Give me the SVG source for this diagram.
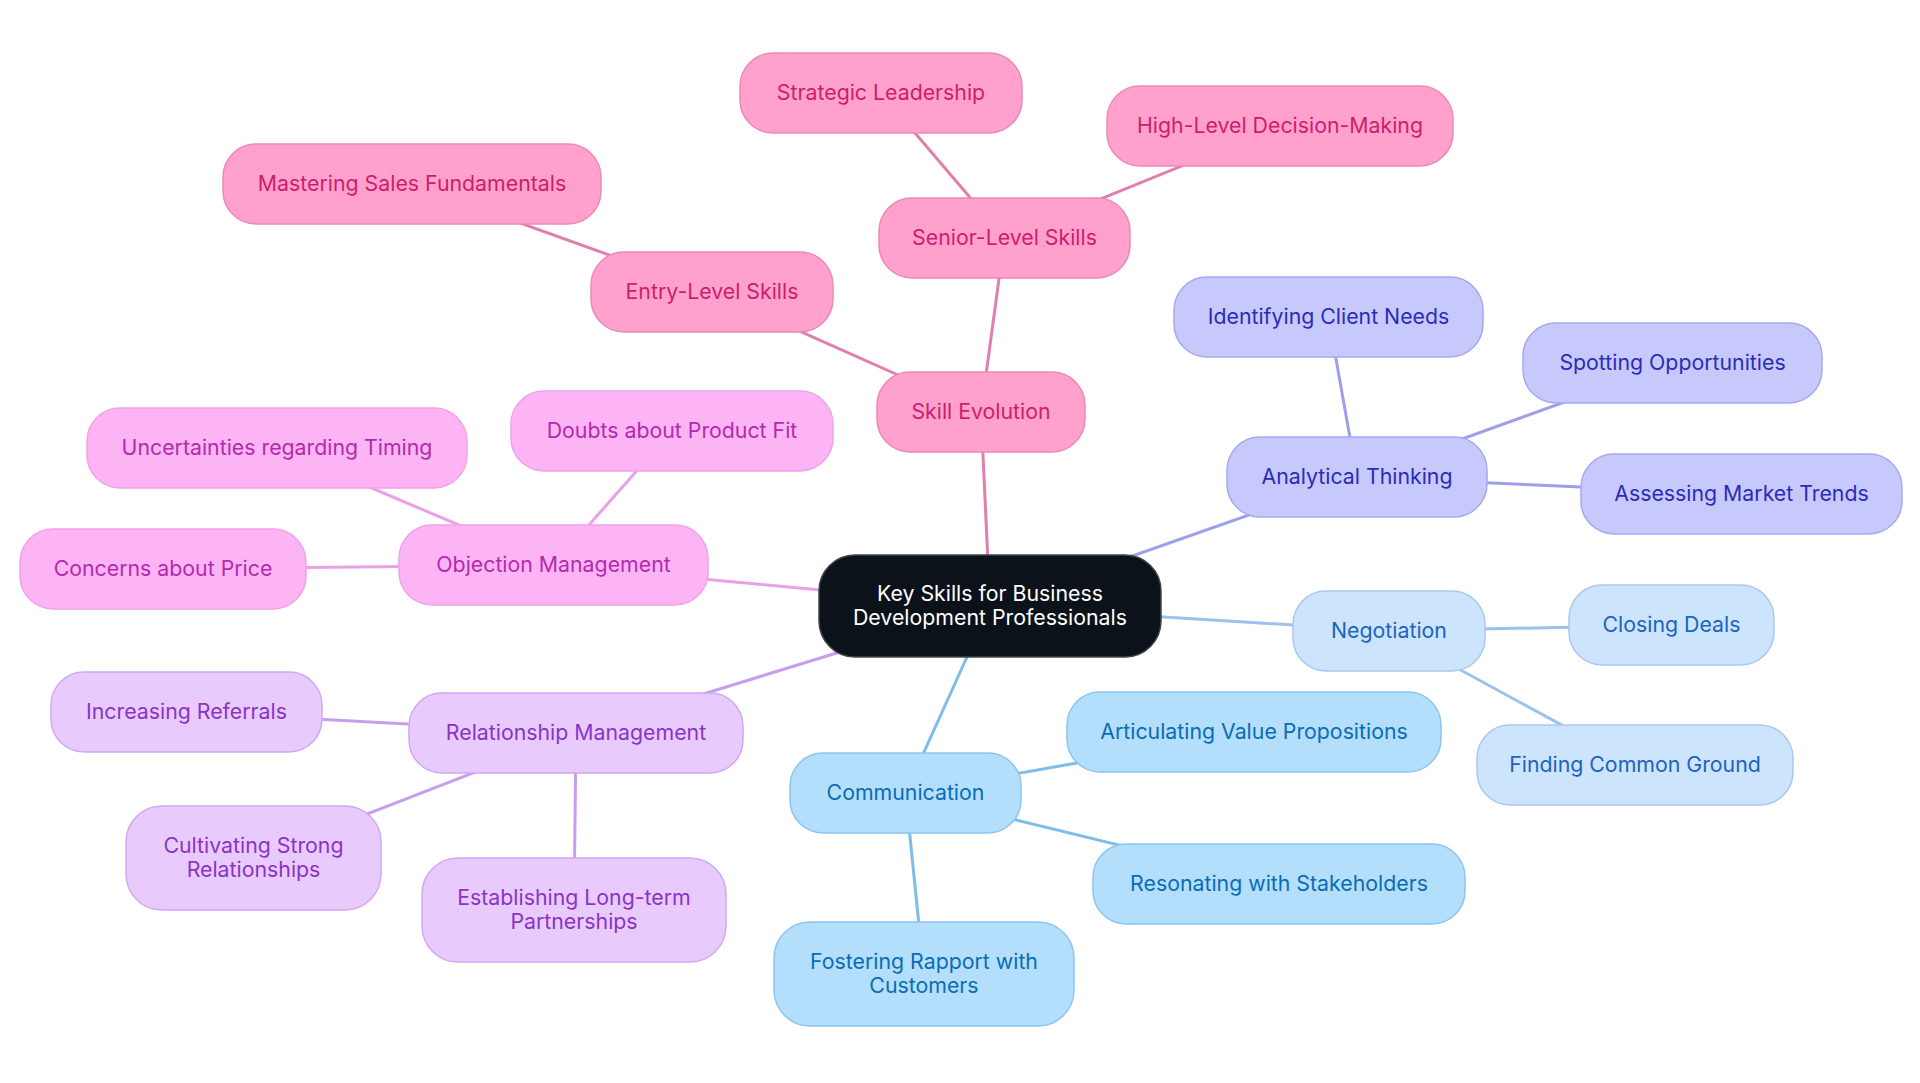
<svg xmlns="http://www.w3.org/2000/svg" width="1920" height="1083" viewBox="0 0 1920 1083">
<style>
text{font-family:Inter,"Open Sans","Liberation Sans",sans-serif;font-size:21.3px;text-anchor:middle;dominant-baseline:central}
.e{stroke-width:3;fill:none;stroke-linecap:round}
.pk rect{fill:#FFA1CC;stroke:#E98AB7;stroke-width:1.5}.pk text{fill:#CC1E6C}
.mg rect{fill:#FCB4F5;stroke:#EEA2EA;stroke-width:1.5}.mg text{fill:#B22AB0}
.lv rect{fill:#E9CAFD;stroke:#D0A8F2;stroke-width:1.5}.lv text{fill:#8A33C8}
.cb rect{fill:#B3DFFC;stroke:#8CC5EF;stroke-width:1.5}.cb text{fill:#0B6CB5}
.nb rect{fill:#CCE4FC;stroke:#A9C8F0;stroke-width:1.5}.nb text{fill:#1D63C0}
.an rect{fill:#C7C9FD;stroke:#A6A8EE;stroke-width:1.5}.an text{fill:#2B2CB8}
</style>
<rect width="1920" height="1083" fill="#ffffff"/>
<g id="connectors">
<line class="e" stroke="#E07FAE" x1="990" y1="606" x2="981" y2="412"/>
<line class="e" stroke="#E07FAE" x1="981" y1="412" x2="712" y2="292"/>
<line class="e" stroke="#E07FAE" x1="712" y1="292" x2="412" y2="184"/>
<line class="e" stroke="#E07FAE" x1="981" y1="412" x2="1004.5" y2="238"/>
<line class="e" stroke="#E07FAE" x1="1004.5" y1="238" x2="881" y2="93"/>
<line class="e" stroke="#E07FAE" x1="1004.5" y1="238" x2="1280" y2="126"/>
<line class="e" stroke="#9D9FE8" x1="990" y1="606" x2="1357" y2="477"/>
<line class="e" stroke="#9D9FE8" x1="1357" y1="477" x2="1328.5" y2="317"/>
<line class="e" stroke="#9D9FE8" x1="1357" y1="477" x2="1672.5" y2="363"/>
<line class="e" stroke="#9D9FE8" x1="1357" y1="477" x2="1741.5" y2="494"/>
<line class="e" stroke="#9CC2EC" x1="990" y1="606" x2="1389" y2="631"/>
<line class="e" stroke="#9CC2EC" x1="1389" y1="631" x2="1671.5" y2="625"/>
<line class="e" stroke="#9CC2EC" x1="1389" y1="631" x2="1635" y2="765"/>
<line class="e" stroke="#7DBDEA" x1="990" y1="606" x2="905.5" y2="793"/>
<line class="e" stroke="#7DBDEA" x1="905.5" y1="793" x2="1254" y2="732"/>
<line class="e" stroke="#7DBDEA" x1="905.5" y1="793" x2="1279" y2="884"/>
<line class="e" stroke="#7DBDEA" x1="905.5" y1="793" x2="924" y2="974"/>
<line class="e" stroke="#C89DEB" x1="990" y1="606" x2="576" y2="733"/>
<line class="e" stroke="#C89DEB" x1="576" y1="733" x2="186.5" y2="712"/>
<line class="e" stroke="#C89DEB" x1="576" y1="733" x2="253.5" y2="858"/>
<line class="e" stroke="#C89DEB" x1="576" y1="733" x2="574" y2="910"/>
<line class="e" stroke="#EAA0E6" x1="990" y1="606" x2="553.5" y2="565"/>
<line class="e" stroke="#EAA0E6" x1="553.5" y1="565" x2="277" y2="448"/>
<line class="e" stroke="#EAA0E6" x1="553.5" y1="565" x2="672" y2="431"/>
<line class="e" stroke="#EAA0E6" x1="553.5" y1="565" x2="163" y2="569"/>
</g>
<g id="root"><rect x="819" y="555" width="342" height="102" rx="36" fill="#0C121A" stroke="#40454C" stroke-width="1.5"/><text x="990" y="593" fill="#ffffff">Key Skills for Business</text><text x="990" y="617" fill="#ffffff">Development Professionals</text></g>
<g id="skill-evolution" class="pk"><rect x="877" y="372" width="208" height="80" rx="33"/><text x="981" y="411">Skill Evolution</text></g>
<g id="entry-level" class="pk"><rect x="591" y="252" width="242" height="80" rx="33"/><text x="712" y="291">Entry-Level Skills</text></g>
<g id="mastering" class="pk"><rect x="223" y="144" width="378" height="80" rx="33"/><text x="412" y="183">Mastering Sales Fundamentals</text></g>
<g id="senior-level" class="pk"><rect x="879" y="198" width="251" height="80" rx="33"/><text x="1004.5" y="237">Senior-Level Skills</text></g>
<g id="strategic" class="pk"><rect x="740" y="53" width="282" height="80" rx="33"/><text x="881" y="92">Strategic Leadership</text></g>
<g id="high-level" class="pk"><rect x="1107" y="86" width="346" height="80" rx="33"/><text x="1280" y="125">High-Level Decision-Making</text></g>
<g id="analytical" class="an"><rect x="1227" y="437" width="260" height="80" rx="33"/><text x="1357" y="476">Analytical Thinking</text></g>
<g id="identifying" class="an"><rect x="1174" y="277" width="309" height="80" rx="33"/><text x="1328.5" y="316">Identifying Client Needs</text></g>
<g id="spotting" class="an"><rect x="1523" y="323" width="299" height="80" rx="33"/><text x="1672.5" y="362">Spotting Opportunities</text></g>
<g id="assessing" class="an"><rect x="1581" y="454" width="321" height="80" rx="33"/><text x="1741.5" y="493">Assessing Market Trends</text></g>
<g id="negotiation" class="nb"><rect x="1293" y="591" width="192" height="80" rx="33"/><text x="1389" y="630">Negotiation</text></g>
<g id="closing" class="nb"><rect x="1569" y="585" width="205" height="80" rx="33"/><text x="1671.5" y="624">Closing Deals</text></g>
<g id="finding" class="nb"><rect x="1477" y="725" width="316" height="80" rx="33"/><text x="1635" y="764">Finding Common Ground</text></g>
<g id="communication" class="cb"><rect x="790" y="753" width="231" height="80" rx="33"/><text x="905.5" y="792">Communication</text></g>
<g id="articulating" class="cb"><rect x="1067" y="692" width="374" height="80" rx="33"/><text x="1254" y="731">Articulating Value Propositions</text></g>
<g id="resonating" class="cb"><rect x="1093" y="844" width="372" height="80" rx="33"/><text x="1279" y="883">Resonating with Stakeholders</text></g>
<g id="fostering" class="cb"><rect x="774" y="922" width="300" height="104" rx="36"/><text x="924" y="961">Fostering Rapport with</text><text x="924" y="985">Customers</text></g>
<g id="relationship" class="lv"><rect x="409" y="693" width="334" height="80" rx="33"/><text x="576" y="732">Relationship Management</text></g>
<g id="increasing" class="lv"><rect x="51" y="672" width="271" height="80" rx="33"/><text x="186.5" y="711">Increasing Referrals</text></g>
<g id="cultivating" class="lv"><rect x="126" y="806" width="255" height="104" rx="36"/><text x="253.5" y="845">Cultivating Strong</text><text x="253.5" y="869">Relationships</text></g>
<g id="establishing" class="lv"><rect x="422" y="858" width="304" height="104" rx="36"/><text x="574" y="897">Establishing Long-term</text><text x="574" y="921">Partnerships</text></g>
<g id="objection" class="mg"><rect x="399" y="525" width="309" height="80" rx="33"/><text x="553.5" y="564">Objection Management</text></g>
<g id="uncertainties" class="mg"><rect x="87" y="408" width="380" height="80" rx="33"/><text x="277" y="447">Uncertainties regarding Timing</text></g>
<g id="doubts" class="mg"><rect x="511" y="391" width="322" height="80" rx="33"/><text x="672" y="430">Doubts about Product Fit</text></g>
<g id="concerns" class="mg"><rect x="20" y="529" width="286" height="80" rx="33"/><text x="163" y="568">Concerns about Price</text></g>
</svg>
